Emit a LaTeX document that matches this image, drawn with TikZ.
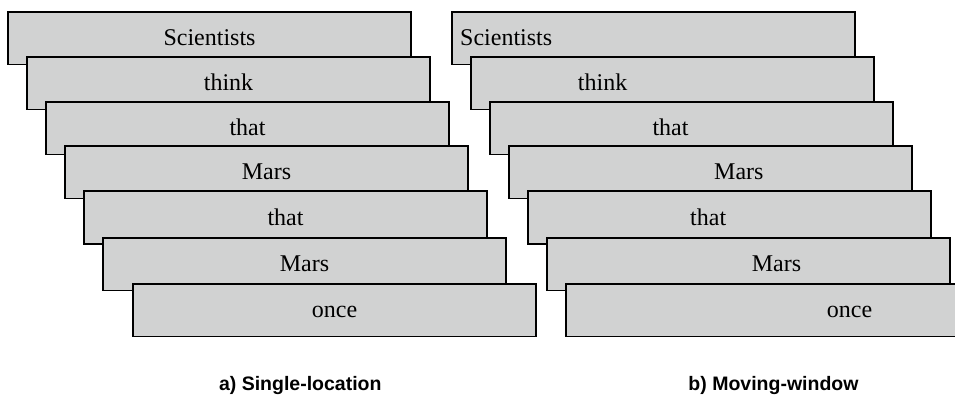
\documentclass[tikz,border=0pt]{standalone}
\usepackage{fontspec}
\setmainfont{Liberation Serif}
\newfontfamily\capfont{Liberation Sans}
\definecolor{boxgray}{RGB}{209,210,210}
\begin{document}
\begin{tikzpicture}[x=1pt,y=-1pt,
  wordbox/.style={draw=black, fill=boxgray, line width=1.8pt, rectangle,
    minimum width=403pt, minimum height=52.5pt, inner sep=0pt, outer sep=0pt, anchor=north west},
  word/.style={font=\fontsize{24}{28}\selectfont, inner sep=0pt},
  cword/.style={word, anchor=base, yshift=-33.7pt},
  mword/.style={word, anchor=base west, yshift=-33.7pt},
  caption/.style={font=\capfont\bfseries\fontsize{19.5}{23}\selectfont, inner sep=0pt, anchor=base}]
\useasboundingbox (0,0) rectangle (955,395);
\clip (0,0) rectangle (955,395);
% ---- a) Single-location ----
\node[wordbox] (L1) at (8,12) {};
\node[cword] (wL1) at (L1.north) {Scientists};
\node[wordbox] (L2) at (27,57) {};
\node[cword] (wL2) at (L2.north) {think};
\node[wordbox] (L3) at (46,102) {};
\node[cword] (wL3) at (L3.north) {that};
\node[wordbox] (L4) at (65,146) {};
\node[cword] (wL4) at (L4.north) {Mars};
\node[wordbox] (L5) at (84,191.4) {};
\node[cword] (wL5) at (L5.north) {that};
\node[wordbox] (L6) at (103,238) {};
\node[cword] (wL6) at (L6.north) {Mars};
\node[wordbox] (L7) at (133,284) {};
\node[cword] (wL7) at (L7.north) {once};
% ---- b) Moving-window ----
\node[wordbox] (R1) at (452,12) {};
\node[mword, xshift=8pt] (wR1) at (R1.north west) {Scientists};
\node[wordbox] (R2) at (471,57) {};
\node[mword, xshift=106.7pt] (wR2) at (R2.north west) {think};
\node[wordbox] (R3) at (490,102) {};
\node[mword, xshift=162.3pt] (wR3) at (R3.north west) {that};
\node[wordbox] (R4) at (509,146) {};
\node[mword, xshift=205pt] (wR4) at (R4.north west) {Mars};
\node[wordbox] (R5) at (528,191.4) {};
\node[mword, xshift=162pt] (wR5) at (R5.north west) {that};
\node[wordbox] (R6) at (547,238) {};
\node[mword, xshift=204.7pt] (wR6) at (R6.north west) {Mars};
\node[wordbox] (R7) at (566,284) {};
\node[mword, xshift=260.7pt] (wR7) at (R7.north west) {once};
% ---- captions ----
\node[caption] (capa) at (300.3,390.5) {a) Single-location};
\node[caption] (capb) at (773.5,390.5) {b) Moving-window};
\end{tikzpicture}
\end{document}
